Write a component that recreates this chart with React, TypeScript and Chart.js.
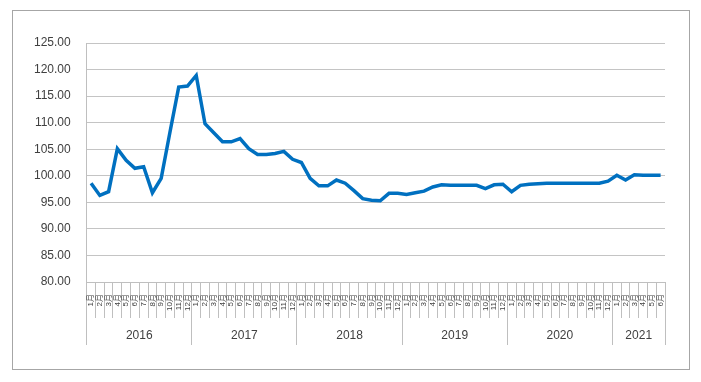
import React, { useEffect, useRef } from "react";
import { Chart, registerables } from "chart.js";

Chart.register(...registerables);

const years = ["2016", "2017", "2018", "2019", "2020", "2021"];
const monthsPerYear = [12, 12, 12, 12, 12, 6];
const values = [
  98.6, 96.3, 97.0, 105.1, 102.9, 101.4, 101.7, 96.8, 99.5, 108.2, 116.7, 116.9,
  118.9, 109.8, 108.1, 106.4, 106.4, 107.0, 105.1, 104.0, 104.0, 104.2, 104.6, 103.1,
  102.5, 99.5, 98.1, 98.1, 99.2, 98.6, 97.2, 95.7, 95.4, 95.3, 96.7, 96.7,
  96.5, 96.8, 97.1, 97.9, 98.3, 98.2, 98.2, 98.2, 98.2, 97.6, 98.3, 98.4,
  97.0, 98.2, 98.4, 98.5, 98.6, 98.6, 98.6, 98.6, 98.6, 98.6, 98.6, 99.0,
  100.1, 99.2, 100.2, 100.1, 100.1, 100.1,
];
const yTicksMin = 80;
const yTicksMax = 125;
const yTicksStep = 5;

const monthLabels: string[] = [];
monthsPerYear.forEach((n) => {
  for (let m = 1; m <= n; m++) monthLabels.push(m + "月");
});

const boundaries: number[] = [0];
const centers: number[] = [];
monthsPerYear.forEach((n) => {
  const start = boundaries[boundaries.length - 1];
  centers.push(start + n / 2);
  boundaries.push(start + n);
});
const total = boundaries[boundaries.length - 1];

export default function App() {
  const ref = useRef<HTMLCanvasElement>(null);
  useEffect(() => {
    if (!ref.current) return;
    const font = "'Liberation Sans', 'Noto Sans CJK SC', Arial, sans-serif";
    const chart = new Chart(ref.current, {
      type: "line",
      data: {
        labels: monthLabels,
        datasets: [
          {
            data: values,
            borderColor: "#0070c0",
            borderWidth: 3.5,
            pointRadius: 0,
            tension: 0,
            fill: false,
            xAxisID: "x",
            yAxisID: "y",
          },
        ],
      },
      options: {
        animation: false,
        responsive: false,
        layout: { padding: { left: 5, top: 32, right: 24, bottom: 20 } },
        plugins: { legend: { display: false }, tooltip: { enabled: false }, title: { display: false } },
        scales: {
          y: {
            min: yTicksMin,
            max: yTicksMax,
            ticks: {
              stepSize: yTicksStep,
              padding: 16,
              color: "#404040",
              font: { family: font, size: 12 },
              callback: (v: any) => Number(v).toFixed(2),
            },
            grid: { color: "#c4c4c4", lineWidth: 1, drawTicks: false },
            border: { color: "#bfbfbf" },
          },
          x: {
            type: "category",
            position: "bottom",
            weight: 1,
            offset: true,
            grid: {
              offset: true,
              drawOnChartArea: false,
              drawTicks: true,
              tickLength: 36,
              color: "#bfbfbf",
            },
            border: { color: "#bfbfbf" },
            ticks: {
              autoSkip: false,
              minRotation: 90,
              maxRotation: 90,
              mirror: true,
              padding: -12,
              labelOffset: 9.6,
              color: "#404040",
              font: { family: font, size: 8 },
            },
          },
          x2: {
            type: "linear",
            position: "bottom",
            weight: 2,
            min: 0,
            max: total,
            afterBuildTicks: (scale: any) => {
              scale.ticks = boundaries.map((v) => ({ value: v }));
            },
            grid: {
              drawOnChartArea: false,
              drawTicks: true,
              tickLength: 51,
              color: "#bfbfbf",
            },
            border: { display: false },
            ticks: { display: false },
          },
          x3: {
            type: "linear",
            position: "bottom",
            weight: 3,
            min: 0,
            max: total,
            afterBuildTicks: (scale: any) => {
              scale.ticks = centers.map((v) => ({ value: v }));
            },
            grid: { display: false, drawTicks: false },
            border: { display: false },
            ticks: {
              autoSkip: false,
              maxRotation: 0,
              minRotation: 0,
              mirror: true,
              padding: 2,
              color: "#404040",
              font: { family: font, size: 12 },
              callback: (v: any) => {
                const i = centers.indexOf(Number(v));
                return i >= 0 ? years[i] : "";
              },
            },
          },
        },
      },
    });
    return () => chart.destroy();
  }, []);
  return (
    <div style={{ padding: "2px 0 0 4px" }}>
      <div
        style={{
          width: 678,
          height: 360,
          border: "1px solid #a6a6a6",
          boxSizing: "border-box",
        }}
      >
        <canvas ref={ref} width={676} height={358} style={{ display: "block" }} />
      </div>
    </div>
  );
}
